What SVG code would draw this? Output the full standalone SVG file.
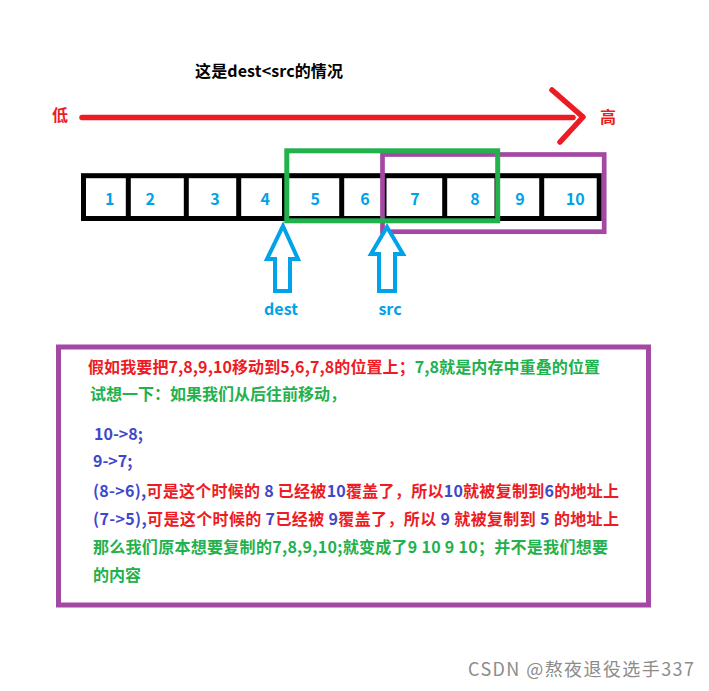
<svg xmlns="http://www.w3.org/2000/svg" width="709" height="691" viewBox="0 0 709 691">
<style>
  text { font-family: "Noto Sans CJK SC", "Liberation Sans", sans-serif; font-weight: bold; font-size: 16px; }
  .num { fill: #00a2e8; text-anchor: middle; }
  .r { fill: #ed1c24; }
  .g { fill: #22b14c; }
  .b { fill: #3f48cc; }
  .lb { fill: #00a2e8; }
  .cell { fill: none; stroke: #000; stroke-width: 5; }
  .arrow { fill: #ffffff; stroke: #00a2e8; stroke-width: 4; stroke-linejoin: miter; }
  .red { fill: none; stroke: #ed1c24; stroke-width: 5.5; stroke-linecap: round; stroke-linejoin: round; }
</style>
<rect width="709" height="691" fill="#ffffff"/>

<g id="title">
  <text x="195" y="77" fill="#000" textLength="148" lengthAdjust="spacing">这是dest&lt;src的情况</text>
</g>

<g id="low-label"><text x="52" y="121" class="r">低</text></g>
<g id="high-label"><text x="600" y="123" class="r">高</text></g>

<g id="connectors">
  <line x1="82" y1="117.5" x2="573" y2="117.5" class="red"/>
  <polyline points="552,90 583,117 560,142" class="red"/>
</g>

<g id="array">
  <rect x="83.5" y="175.7" width="515.7" height="42.8" class="cell"/>
  <line x1="128.3" y1="175.7" x2="128.3" y2="218.5" class="cell"/>
  <line x1="186.3" y1="175.7" x2="186.3" y2="218.5" class="cell"/>
  <line x1="238.7" y1="175.7" x2="238.7" y2="218.5" class="cell"/>
  <line x1="284.5" y1="175.7" x2="284.5" y2="218.5" class="cell"/>
  <line x1="341.7" y1="175.7" x2="341.7" y2="218.5" class="cell"/>
  <line x1="384" y1="175.7" x2="384" y2="218.5" class="cell"/>
  <line x1="444.7" y1="175.7" x2="444.7" y2="218.5" class="cell"/>
  <line x1="497" y1="175.7" x2="497" y2="218.5" class="cell"/>
  <line x1="541.7" y1="175.7" x2="541.7" y2="218.5" class="cell"/>
  <text x="109.7" y="205" class="num">1</text>
  <text x="150.3" y="205" class="num">2</text>
  <text x="215" y="205" class="num">3</text>
  <text x="265.3" y="205" class="num">4</text>
  <text x="315.3" y="205" class="num">5</text>
  <text x="365" y="205" class="num">6</text>
  <text x="415" y="205" class="num">7</text>
  <text x="475" y="205" class="num">8</text>
  <text x="520" y="205" class="num">9</text>
  <text x="575.2" y="205" class="num">10</text>
</g>

<g id="src-range">
  <rect x="382.5" y="154.5" width="221.7" height="77.2" fill="none" stroke="#a349a4" stroke-width="4.7"/>
</g>
<g id="dest-range">
  <rect x="286.8" y="150.8" width="210.9" height="70" fill="none" stroke="#22b14c" stroke-width="5"/>
</g>

<g id="dest-arrow">
  <polygon points="283,226 298,259 290,259 290,291 275,291 275,259 267,259" class="arrow"/>
  <text x="281" y="315" class="lb" text-anchor="middle">dest</text>
</g>
<g id="src-arrow">
  <polygon points="387,227 403,254 395,254 395,291 379,291 379,254 371,254" class="arrow"/>
  <text x="390" y="315" class="lb" text-anchor="middle">src</text>
</g>

<g id="explanation">
  <rect x="58.5" y="347" width="590" height="258" fill="none" stroke="#a349a4" stroke-width="5"/>
  <text x="88" y="373" textLength="512" lengthAdjust="spacing"><tspan class="r">假如我要把7,8,9,10移动到5,6,7,8的位置上；</tspan><tspan class="g">7,8就是内存中重叠的位置</tspan></text>
  <text x="90" y="400" class="g">试想一下：如果我们从后往前移动，</text>
  <text x="94" y="440" class="b">10-&gt;8;</text>
  <text x="93" y="467" class="b">9-&gt;7;</text>
  <text x="93" y="497" textLength="526" lengthAdjust="spacing"><tspan class="b">(8-&gt;6),</tspan><tspan class="r">可是这个时候的</tspan><tspan class="b"> 8 </tspan><tspan class="r">已经被</tspan><tspan class="b">10</tspan><tspan class="r">覆盖了，所以</tspan><tspan class="b">10</tspan><tspan class="r">就被复制到</tspan><tspan class="b">6</tspan><tspan class="r">的地址上</tspan></text>
  <text x="93" y="525" textLength="526" lengthAdjust="spacing"><tspan class="b">(7-&gt;5),</tspan><tspan class="r">可是这个时候的</tspan><tspan class="b"> 7</tspan><tspan class="r">已经被</tspan><tspan class="b"> 9</tspan><tspan class="r">覆盖了，所以</tspan><tspan class="b"> 9 </tspan><tspan class="r">就被复制到</tspan><tspan class="b"> 5 </tspan><tspan class="r">的地址上</tspan></text>
  <text x="93" y="553" class="g" textLength="515" lengthAdjust="spacing">那么我们原本想要复制的7,8,9,10;就变成了9 10 9 10；并不是我们想要</text>
  <text x="93" y="581" class="g">的内容</text>
</g>

<g id="watermark">
  <text x="468" y="676" fill="#8c8c8c" style="font-weight:normal;font-size:18px" textLength="226" lengthAdjust="spacing">CSDN @熬夜退役选手337</text>
</g>
</svg>
